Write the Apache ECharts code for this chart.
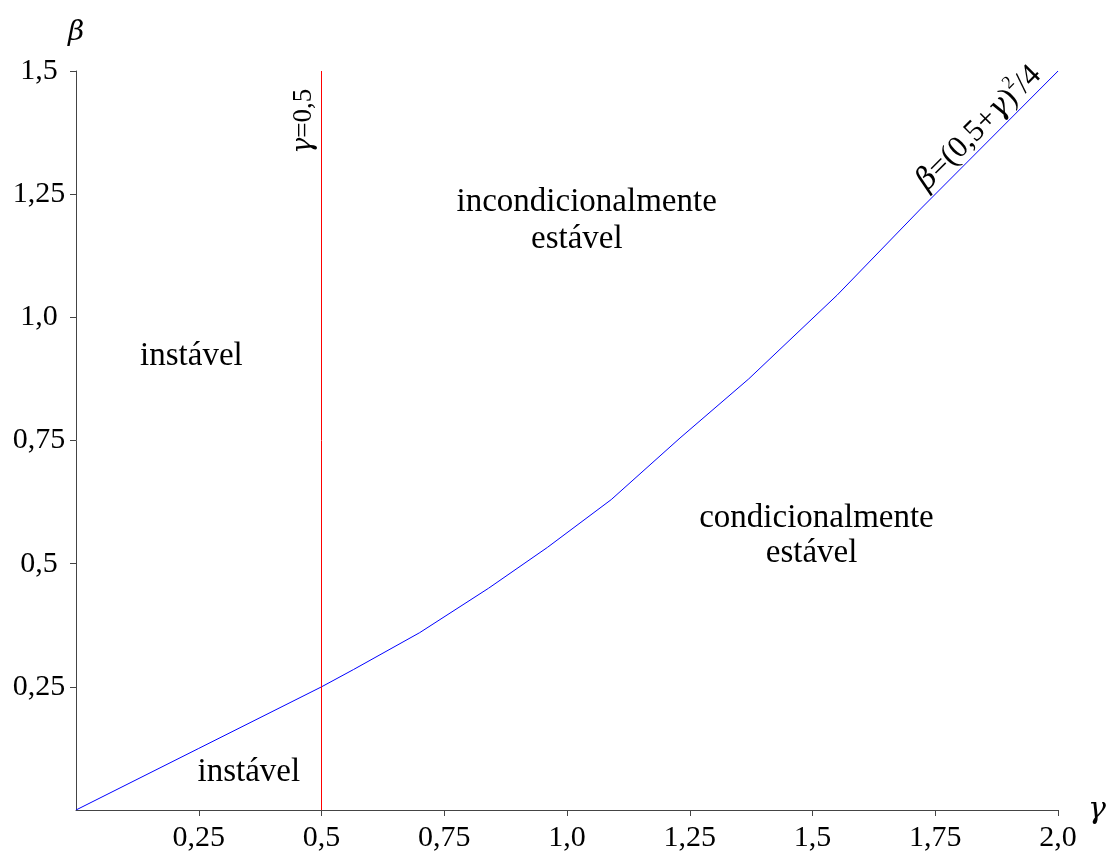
<!DOCTYPE html>
<html>
<head>
<meta charset="utf-8">
<script src="https://cdn.jsdelivr.net/npm/echarts@6/dist/echarts.min.js"></script>
<style>
  html, body { margin: 0; padding: 0; background: #ffffff; }
  #chart { width: 1109px; height: 854px; }
</style>
</head>
<body>
<div id="chart"></div>
<script>
// Stability boundary of the Newmark method: beta versus gamma
const gammaValues = [0, 0.25, 0.5, 0.565, 0.7, 0.84, 0.96, 1.09, 1.23, 1.37, 1.55, 1.72, 2.0];
const betaValues  = [0, 0.125, 0.25, 0.285, 0.36, 0.45, 0.533, 0.63, 0.755, 0.875, 1.045, 1.22, 1.5];

// Vertical limit gamma = 0.5
const limitGamma = 0.5;
const limitBetaRange = [0, 1.5];

// Tick values and their labels (decimal comma)
const xTickValues = [0.25, 0.5, 0.75, 1.0, 1.25, 1.5, 1.75, 2.0];
const xTickLabels = ['0,25', '0,5', '0,75', '1,0', '1,25', '1,5', '1,75', '2,0'];
const yTickValues = [0.25, 0.5, 0.75, 1.0, 1.25, 1.5];
const yTickLabels = ['0,25', '0,5', '0,75', '1,0', '1,25', '1,5'];

// Region names
const regionTexts = ['instável', 'instável', 'incondicionalmente', 'estável', 'condicionalmente', 'estável'];

const SERIF = '"Liberation Serif", "Times New Roman", serif';
const GREEK = '"DejaVu Serif", "Liberation Serif", serif';

// Where each region name sits, in data coordinates
const regionAnchors = [[0.235, 0.921], [0.352, 0.077], [1.04, 1.234], [1.02, 1.159], [1.508, 0.593], [1.498, 0.52]];

const chart = echarts.init(document.getElementById('chart'), null, { renderer: 'canvas' });

const labelFor = (values, labels) => (v) => {
  const i = values.findIndex(t => Math.abs(t - v) < 1e-9);
  return i < 0 ? '' : labels[i];
};

const hiddenPoint = { color: 'rgba(0,0,0,0)', borderWidth: 0, opacity: 1 };

// Text items: region names, then the two curve annotations
const textItems = regionTexts.map((t, i) => ({
  value: regionAnchors[i],
  label: { formatter: t }
}));
textItems.push({
  value: [0.464, 1.398],
  label: {
    rotate: 90,
    formatter: '{g|γ}=0,5',
    fontSize: 27,
    rich: { g: { fontFamily: GREEK, fontStyle: 'italic', fontSize: 27, color: '#000000' } }
  }
});
textItems.push({
  value: [1.839, 1.384],
  label: {
    rotate: 45,
    formatter: '{g|β}=(0,5+{g|γ}){s|2}/4',
    fontSize: 31,
    rich: {
      g: { fontFamily: GREEK, fontStyle: 'italic', fontSize: 30, color: '#000000' },
      s: { fontFamily: SERIF, fontSize: 18, color: '#000000', padding: [0, 0, 22, 0] }
    }
  }
});

const option = {
  animation: false,
  grid: { left: 76, right: 50, top: 71, bottom: 44, containLabel: false },
  xAxis: {
    type: 'value', min: 0, max: 2, interval: 0.25,
    name: 'γ', nameLocation: 'end', nameGap: 30,
    nameTextStyle: { fontFamily: GREEK, fontStyle: 'italic', fontSize: 30, color: '#000', verticalAlign: 'middle', padding: [0, 0, 10, 0] },
    axisLine: { show: true, onZero: false, lineStyle: { color: '#444', width: 1 } },
    axisTick: { show: true, length: 6, inside: false, customValues: xTickValues, lineStyle: { color: '#444' } },
    axisLabel: { margin: 13, fontFamily: SERIF, fontSize: 30, color: '#000', customValues: xTickValues, formatter: labelFor(xTickValues, xTickLabels) },
    splitLine: { show: false }
  },
  yAxis: {
    type: 'value', min: 0, max: 1.5, interval: 0.25,
    name: 'β', nameLocation: 'end', nameGap: 24,
    nameTextStyle: { fontFamily: GREEK, fontStyle: 'italic', fontSize: 28, color: '#000', align: 'center' },
    axisLine: { show: true, onZero: false, lineStyle: { color: '#444', width: 1 } },
    axisTick: { show: true, length: 6, inside: false, customValues: yTickValues, lineStyle: { color: '#444' } },
    axisLabel: { margin: 37, align: 'center', fontFamily: SERIF, fontSize: 30, color: '#000', customValues: yTickValues, formatter: labelFor(yTickValues, yTickLabels) },
    splitLine: { show: false }
  },
  series: [
    {
      name: 'fronteira',
      type: 'line',
      data: gammaValues.map((g, i) => [g, betaValues[i]]),
      showSymbol: false,
      symbol: 'none',
      lineStyle: { color: '#0000ff', width: 1 },
      silent: true,
      z: 3,
      // vertical limit gamma = 0.5
      markLine: {
        silent: true,
        symbol: ['none', 'none'],
        animation: false,
        label: { show: false },
        emphasis: { disabled: true },
        lineStyle: { color: '#ff0000', width: 1, type: 'solid', opacity: 1 },
        data: [[
          { coord: [limitGamma, limitBetaRange[0]] },
          { coord: [limitGamma, limitBetaRange[1]] }
        ]]
      }
    },
    {
      name: 'textos',
      type: 'scatter',
      symbolSize: 1,
      itemStyle: hiddenPoint,
      silent: true,
      data: textItems,
      label: {
        show: true, position: [0.5, 0.5], align: 'center', verticalAlign: 'middle',
        fontFamily: SERIF, fontSize: 33, color: '#000000', opacity: 1
      },
      z: 5
    }
  ]
};

chart.setOption(option);
</script>
</body>
</html>
